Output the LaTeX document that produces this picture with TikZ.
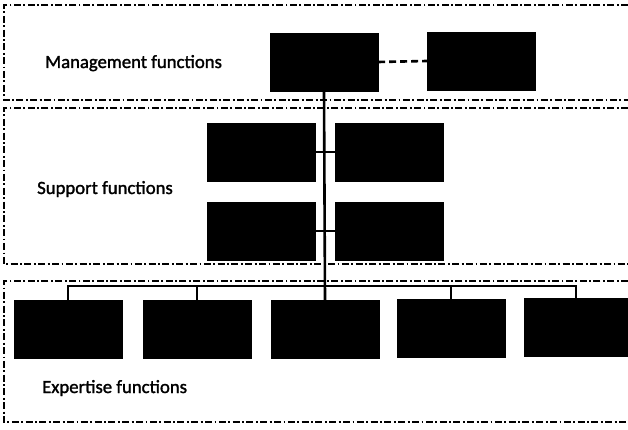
\documentclass[tikz,border=0pt]{standalone}
\usepackage{fontspec}
\setmainfont{Carlito}[RawFeature={embolden=1.5}]
\usetikzlibrary{arrows}

\begin{document}
\begin{tikzpicture}[x=1pt,y=-1pt,line join=miter,
                    every node/.style={font=\fontsize{18.7}{22}\selectfont}]
  \tikzstyle{unit}=[fill=black,draw=black,minimum width=108pt,minimum height=58pt,inner sep=0pt]
  \tikzstyle{band}=[line width=2pt,dash pattern=on 7pt off 2.5pt on 1.8pt off 2.5pt]
  \tikzstyle{link}=[line width=2.6pt]
  \tikzstyle{label}=[anchor=base west,inner sep=0pt]
  \useasboundingbox (0,0) rectangle (628,430);

  % the three bands, open on the right
  \draw[band] (628,5) -- (4,5) -- (4,100) -- (628,100);
  \draw[band] (628,108) -- (4,108) -- (4,264) -- (628,264);
  \draw[band] (628,281) -- (4,281) -- (4,422) -- (628,422);

  \node[label] (mgmt) at (45,68)  {Management functions};
  \node[label] (supp) at (37,194) {Support functions};
  \node[label] (expt) at (42,393) {Expertise functions};

  \node[unit] (m1) at (324,62)  {};
  \node[unit] (m2) at (481,61)  {};
  \node[unit] (s1) at (261,152) {};
  \node[unit] (s2) at (389,152) {};
  \node[unit] (s3) at (261,231) {};
  \node[unit] (s4) at (389,231) {};
  \node[unit] (e1) at (68,329)  {};
  \node[unit] (e2) at (197,329) {};
  \node[unit] (e3) at (325,329) {};
  \node[unit] (e4) at (451,328) {};
  \node[unit, minimum width=104pt] (e5) at (576,327) {};
  \coordinate (bus) at (325,286);

  \draw[link, dash pattern=on 7pt off 4pt] (m1.east) -- (m2.west);
  \draw[link] (m1.south) -- (e3.north);
  \draw[link] (s1.east) -- (s2.west);
  \draw[link] (s3.east) -- (s4.west);
  \foreach \i in {1,2,4,5}
    \draw[link] (e\i.north) |- (bus);
\end{tikzpicture}
\end{document}
